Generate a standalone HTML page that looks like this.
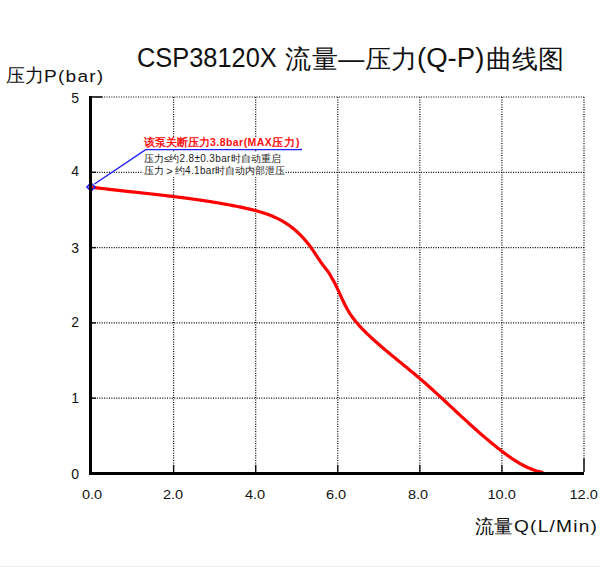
<!DOCTYPE html>
<html><head><meta charset="utf-8">
<style>
html,body{margin:0;padding:0;background:#fff;width:600px;height:567px;overflow:hidden;position:relative}
body{font-family:"Liberation Sans",sans-serif;color:#111}
svg{position:absolute;left:0;top:0}
.g{stroke:#000;stroke-width:1.2;stroke-dasharray:1 1.42;fill:none}
.t{stroke:#111;stroke-width:1.4;fill:none}
.tx{position:absolute;white-space:nowrap;line-height:1}
.sx{display:inline-block;transform-origin:0 0}
.yl{position:absolute;font-size:14px;line-height:1;width:20px;text-align:right;left:59px}
.xs{display:inline-block;transform:scaleX(1.12);transform-origin:50% 0}
.xl{position:absolute;font-size:13px;line-height:1;width:50px;text-align:center;top:488px}
</style></head><body>
<svg width="600" height="567" viewBox="0 0 600 567">
<line x1="92" y1="97.00" x2="584" y2="97.00" class="g"/>
<line x1="92" y1="172.30" x2="584" y2="172.30" class="g"/>
<line x1="92" y1="247.60" x2="584" y2="247.60" class="g"/>
<line x1="92" y1="322.90" x2="584" y2="322.90" class="g"/>
<line x1="92" y1="398.20" x2="584" y2="398.20" class="g"/>
<line x1="173.60" y1="97" x2="173.60" y2="472" class="g"/>
<line x1="255.68" y1="97" x2="255.68" y2="472" class="g"/>
<line x1="337.76" y1="97" x2="337.76" y2="472" class="g"/>
<line x1="419.84" y1="97" x2="419.84" y2="472" class="g"/>
<line x1="501.92" y1="97" x2="501.92" y2="472" class="g"/>
<line x1="584.00" y1="97" x2="584.00" y2="472" class="g"/>
<line x1="92" y1="172.30" x2="96" y2="172.30" class="t"/>
<line x1="92" y1="247.60" x2="96" y2="247.60" class="t"/>
<line x1="92" y1="322.90" x2="96" y2="322.90" class="t"/>
<line x1="92" y1="398.20" x2="96" y2="398.20" class="t"/>
<line x1="173.60" y1="465" x2="173.60" y2="472" class="t"/>
<line x1="255.68" y1="465" x2="255.68" y2="472" class="t"/>
<line x1="337.76" y1="465" x2="337.76" y2="472" class="t"/>
<line x1="419.84" y1="465" x2="419.84" y2="472" class="t"/>
<line x1="501.92" y1="465" x2="501.92" y2="472" class="t"/>
<line x1="584.00" y1="458" x2="584.00" y2="472" class="t"/>
<path d="M90.98 187.12 L92.11 187.27 L93.23 187.41 L94.36 187.55 L95.48 187.69 L96.61 187.82 L97.73 187.96 L98.86 188.10 L99.98 188.23 L101.11 188.37 L102.23 188.50 L103.35 188.63 L104.48 188.77 L105.60 188.90 L106.73 189.03 L107.85 189.16 L108.97 189.29 L110.09 189.42 L111.22 189.55 L112.34 189.67 L113.46 189.80 L114.59 189.93 L115.71 190.06 L116.83 190.18 L117.95 190.31 L119.07 190.43 L120.20 190.56 L121.32 190.68 L122.44 190.81 L123.56 190.93 L124.68 191.05 L125.80 191.18 L126.92 191.30 L128.04 191.42 L129.16 191.55 L130.28 191.67 L131.40 191.79 L132.52 191.91 L133.64 192.04 L134.76 192.16 L135.88 192.28 L137.00 192.40 L138.12 192.52 L139.24 192.65 L140.36 192.77 L141.48 192.89 L142.60 193.01 L143.72 193.14 L144.84 193.26 L145.96 193.38 L147.08 193.51 L148.19 193.63 L149.31 193.75 L150.43 193.88 L151.55 194.00 L152.67 194.13 L153.79 194.25 L154.90 194.38 L156.02 194.50 L157.14 194.63 L158.26 194.76 L159.37 194.88 L160.49 195.01 L161.61 195.14 L162.73 195.27 L163.84 195.40 L164.96 195.53 L166.08 195.66 L167.19 195.79 L168.31 195.92 L169.43 196.05 L170.54 196.19 L171.66 196.32 L172.77 196.46 L173.89 196.59 L175.01 196.73 L176.12 196.87 L177.24 197.01 L178.35 197.15 L179.47 197.29 L180.58 197.43 L181.70 197.57 L182.82 197.71 L183.93 197.86 L185.05 198.00 L186.16 198.15 L187.28 198.30 L188.39 198.44 L189.51 198.59 L190.62 198.75 L191.74 198.90 L192.85 199.05 L193.96 199.21 L195.08 199.36 L196.19 199.52 L197.31 199.68 L198.42 199.84 L199.54 200.00 L200.65 200.16 L201.76 200.33 L202.88 200.49 L203.99 200.66 L205.11 200.83 L206.22 201.00 L207.33 201.17 L208.45 201.34 L209.56 201.52 L210.67 201.69 L211.79 201.87 L212.90 202.05 L214.01 202.23 L215.13 202.42 L216.24 202.60 L217.35 202.79 L218.47 202.98 L219.58 203.17 L220.69 203.36 L221.81 203.55 L222.92 203.75 L224.03 203.95 L225.14 204.15 L226.26 204.35 L227.37 204.55 L228.48 204.76 L229.59 204.97 L230.71 205.18 L231.82 205.39 L232.93 205.60 L234.04 205.82 L235.16 206.04 L236.27 206.26 L237.38 206.48 L238.49 206.71 L239.61 206.93 L240.72 207.16 L241.83 207.40 L242.94 207.63 L244.05 207.87 L245.16 208.11 L246.27 208.36 L247.38 208.61 L248.49 208.86 L249.59 209.12 L250.70 209.38 L251.80 209.65 L252.90 209.92 L254.00 210.20 L255.10 210.49 L256.19 210.78 L257.28 211.07 L258.37 211.38 L259.45 211.69 L260.54 212.01 L261.61 212.34 L262.69 212.67 L263.76 213.02 L264.83 213.37 L265.89 213.73 L266.95 214.10 L268.00 214.48 L269.05 214.87 L270.10 215.27 L271.14 215.68 L272.17 216.10 L273.20 216.53 L274.23 216.98 L275.25 217.43 L276.26 217.90 L277.26 218.38 L278.26 218.87 L279.26 219.37 L280.24 219.89 L281.23 220.42 L282.20 220.96 L283.16 221.52 L284.12 222.09 L285.07 222.68 L286.02 223.28 L286.95 223.89 L287.88 224.52 L288.80 225.16 L289.71 225.82 L290.62 226.49 L291.51 227.17 L292.40 227.87 L293.28 228.57 L294.15 229.29 L295.01 230.02 L295.87 230.77 L296.71 231.52 L297.55 232.28 L298.38 233.06 L299.20 233.84 L300.01 234.64 L300.81 235.44 L301.60 236.26 L302.38 237.08 L303.16 237.91 L303.92 238.75 L304.68 239.60 L305.42 240.46 L306.16 241.33 L306.88 242.20 L307.60 243.08 L308.30 243.97 L309.00 244.86 L309.69 245.76 L310.36 246.67 L311.03 247.58 L311.68 248.50 L312.33 249.42 L312.97 250.35 L313.60 251.28 L314.23 252.21 L314.85 253.15 L315.47 254.09 L316.09 255.02 L316.70 255.96 L317.32 256.90 L317.94 257.84 L318.56 258.77 L319.18 259.71 L319.81 260.64 L320.44 261.56 L321.08 262.49 L321.73 263.40 L322.38 264.32 L323.05 265.22 L323.73 266.12 L324.42 267.01 L325.12 267.89 L325.83 268.77 L326.54 269.65 L327.24 270.54 L327.92 271.44 L328.57 272.35 L329.19 273.29 L329.77 274.25 L330.32 275.23 L330.87 276.21 L331.41 277.19 L331.95 278.17 L332.51 279.14 L333.06 280.11 L333.61 281.09 L334.14 282.07 L334.66 283.06 L335.18 284.06 L335.68 285.06 L336.18 286.07 L336.67 287.08 L337.16 288.10 L337.64 289.12 L338.12 290.15 L338.59 291.18 L339.06 292.21 L339.53 293.24 L340.00 294.27 L340.47 295.30 L340.93 296.33 L341.40 297.37 L341.88 298.40 L342.35 299.42 L342.83 300.45 L343.31 301.47 L343.80 302.49 L344.29 303.51 L344.79 304.52 L345.30 305.53 L345.82 306.53 L346.35 307.52 L346.88 308.51 L347.43 309.49 L347.99 310.46 L348.56 311.43 L349.15 312.39 L349.75 313.33 L350.36 314.27 L350.98 315.20 L351.62 316.12 L352.27 317.03 L352.93 317.94 L353.60 318.83 L354.28 319.72 L354.98 320.60 L355.68 321.48 L356.39 322.34 L357.12 323.20 L357.85 324.06 L358.59 324.90 L359.34 325.74 L360.10 326.58 L360.86 327.41 L361.64 328.23 L362.42 329.05 L363.20 329.86 L363.99 330.66 L364.79 331.47 L365.60 332.26 L366.41 333.05 L367.22 333.84 L368.04 334.63 L368.87 335.40 L369.69 336.18 L370.52 336.95 L371.36 337.72 L372.19 338.49 L373.03 339.25 L373.87 340.01 L374.72 340.76 L375.56 341.52 L376.41 342.27 L377.26 343.02 L378.11 343.76 L378.96 344.51 L379.81 345.25 L380.67 345.99 L381.52 346.72 L382.38 347.46 L383.24 348.19 L384.10 348.92 L384.97 349.65 L385.83 350.38 L386.69 351.11 L387.56 351.83 L388.42 352.55 L389.29 353.28 L390.16 354.00 L391.03 354.72 L391.90 355.44 L392.77 356.15 L393.64 356.87 L394.51 357.59 L395.38 358.30 L396.25 359.02 L397.12 359.73 L397.99 360.44 L398.87 361.16 L399.74 361.87 L400.61 362.58 L401.48 363.30 L402.35 364.01 L403.23 364.72 L404.10 365.43 L404.97 366.15 L405.84 366.86 L406.71 367.58 L407.58 368.29 L408.45 369.01 L409.32 369.72 L410.19 370.44 L411.05 371.16 L411.92 371.87 L412.78 372.59 L413.65 373.31 L414.51 374.04 L415.37 374.76 L416.24 375.48 L417.10 376.21 L417.95 376.94 L418.81 377.67 L419.67 378.40 L420.52 379.13 L421.37 379.86 L422.22 380.60 L423.07 381.34 L423.92 382.08 L424.77 382.82 L425.62 383.56 L426.46 384.31 L427.30 385.05 L428.14 385.80 L428.99 386.55 L429.82 387.30 L430.66 388.05 L431.50 388.80 L432.34 389.56 L433.17 390.31 L434.01 391.07 L434.84 391.83 L435.68 392.59 L436.51 393.34 L437.34 394.11 L438.17 394.87 L439.00 395.63 L439.83 396.39 L440.66 397.15 L441.49 397.92 L442.32 398.68 L443.14 399.45 L443.97 400.21 L444.80 400.98 L445.62 401.75 L446.45 402.51 L447.27 403.28 L448.10 404.05 L448.93 404.82 L449.75 405.59 L450.58 406.35 L451.40 407.12 L452.23 407.89 L453.05 408.66 L453.88 409.43 L454.70 410.20 L455.53 410.96 L456.36 411.73 L457.18 412.50 L458.01 413.27 L458.83 414.04 L459.66 414.80 L460.49 415.57 L461.32 416.33 L462.15 417.10 L462.97 417.86 L463.80 418.63 L464.63 419.39 L465.46 420.15 L466.30 420.92 L467.13 421.68 L467.96 422.44 L468.80 423.20 L469.63 423.96 L470.47 424.71 L471.30 425.47 L472.14 426.23 L472.98 426.98 L473.82 427.73 L474.66 428.48 L475.50 429.24 L476.34 429.98 L477.19 430.73 L478.03 431.48 L478.88 432.22 L479.73 432.97 L480.58 433.71 L481.43 434.45 L482.28 435.19 L483.14 435.92 L483.99 436.66 L484.85 437.39 L485.71 438.12 L486.57 438.85 L487.43 439.58 L488.29 440.30 L489.16 441.03 L490.03 441.75 L490.90 442.47 L491.77 443.18 L492.64 443.90 L493.52 444.61 L494.40 445.32 L495.27 446.03 L496.16 446.73 L497.04 447.44 L497.93 448.14 L498.81 448.83 L499.71 449.53 L500.60 450.22 L501.49 450.91 L502.39 451.60 L503.29 452.28 L504.19 452.96 L505.10 453.64 L506.01 454.31 L506.92 454.97 L507.84 455.64 L508.76 456.29 L509.68 456.94 L510.61 457.59 L511.54 458.23 L512.47 458.86 L513.41 459.48 L514.35 460.10 L515.30 460.70 L516.25 461.30 L517.21 461.89 L518.17 462.47 L519.14 463.04 L520.11 463.61 L521.09 464.16 L522.07 464.70 L523.06 465.22 L524.06 465.74 L525.06 466.25 L526.06 466.74 L527.08 467.22 L528.10 467.69 L529.13 468.14 L530.16 468.58 L531.20 469.01 L532.25 469.42 L533.30 469.81 L534.37 470.19 L535.44 470.56 L536.51 470.91 L537.60 471.24 L538.69 471.55 L539.80 471.85 L540.91 472.13 L542.02 472.39" fill="none" stroke="#ff0000" stroke-width="3.2" stroke-linecap="round" stroke-linejoin="round"/>
<polyline points="94.5,184 146,149.5 302,149.5" fill="none" stroke="#1f1fff" stroke-width="1.5"/>
<polygon points="91,183 95,187 91,191 87,187" fill="none" stroke="#1f1fff" stroke-width="1.6"/>
<line x1="90" y1="97" x2="102.5" y2="97" stroke="#3a3a3a" stroke-width="2"/>
<line x1="90.5" y1="96" x2="90.5" y2="475" stroke="#000" stroke-width="3"/>
<line x1="89" y1="473.5" x2="584" y2="473.5" stroke="#000" stroke-width="3"/>
</svg>
<div class="tx" style="left:137px;top:45px;font-size:27px"><span class="sx" style="transform:scaleX(0.94)">CSP38120X</span></div>
<div class="tx" style="left:285px;top:45.5px;font-size:26px;letter-spacing:0.6px">流量—压力</div>
<div class="tx" style="left:416.5px;top:44.5px;font-size:27px"><span class="sx" style="transform:scaleX(1.02)">(Q-P)</span></div>
<div class="tx" style="left:486px;top:45.5px;font-size:26px;letter-spacing:-0.1px">曲线图</div>
<div class="tx" style="left:5.5px;top:67px;font-size:18.5px">压力</div>
<div class="tx" style="left:44px;top:68px;font-size:17.4px"><span class="sx" style="transform:scaleX(1.1);letter-spacing:1.1px">P(bar)</span></div>
<div class="yl" style="top:91px">5</div>
<div class="yl" style="top:164.3px">4</div>
<div class="yl" style="top:240.8px">3</div>
<div class="yl" style="top:314.7px">2</div>
<div class="yl" style="top:391.3px">1</div>
<div class="yl" style="top:467.2px">0</div>
<div class="xl" style="left:67.5px"><span class="xs">0.0</span></div>
<div class="xl" style="left:148.5px"><span class="xs">2.0</span></div>
<div class="xl" style="left:230px"><span class="xs">4.0</span></div>
<div class="xl" style="left:311.5px"><span class="xs">6.0</span></div>
<div class="xl" style="left:393.5px"><span class="xs">8.0</span></div>
<div class="xl" style="left:477px"><span class="xs">10.0</span></div>
<div class="xl" style="left:559px"><span class="xs">12.0</span></div>
<div class="tx" style="left:475px;top:518px;font-size:18.5px">流量</div>
<div class="tx" style="left:514px;top:517.5px;font-size:17.4px"><span class="sx" style="transform:scaleX(1.1);letter-spacing:1.1px">Q(L/Min)</span></div>
<div class="tx" style="left:144px;top:136.5px;font-size:10.5px;font-weight:bold;color:#ff1010;background:#fff;height:12px">该泵关断压力<span style="letter-spacing:0.45px">3.8bar(MAX</span><span style="letter-spacing:0.9px">压力)</span></div>
<div class="tx" style="left:143px;top:151.5px;padding:2px 0 0 1px;height:12px;font-size:10px;color:#1a1a1a;background:#fff">压力≤约<span style="letter-spacing:0.35px">2.8±0.3bar</span>时自动重启</div>
<div class="tx" style="left:143px;top:165.5px;padding:0 0 0 1px;height:11px;font-size:10px;color:#1a1a1a;background:#fff">压力<span style="font-size:11px;display:inline-block;width:11px;text-align:center;vertical-align:top;line-height:11px">&gt;</span>约<span style="letter-spacing:0.35px">4.1bar</span>时自动内部泄压</div>
<div style="position:absolute;left:0;top:566px;width:600px;height:1px;background:#ececec"></div>
</body></html>
